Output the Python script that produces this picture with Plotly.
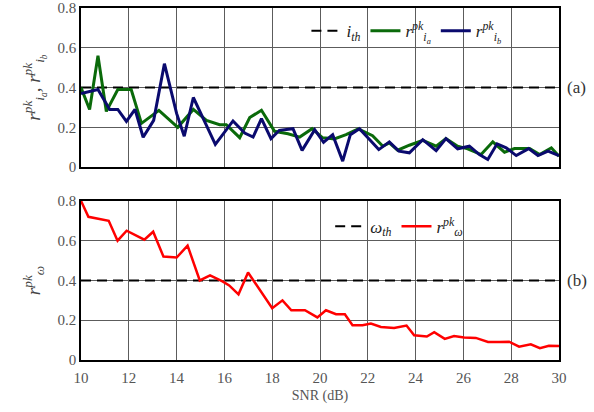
import plotly.graph_objects as go

# ---- data ----
snr_ia = [10.0, 10.36, 10.71, 11.06, 11.54, 12.1, 12.53, 13.26, 14.05, 14.7, 15.25, 15.8, 16.08,
          16.64, 17.06, 17.55, 18.1, 18.66, 19.15, 19.67, 20.1, 20.6, 21.09, 21.6, 22.2, 22.63,
          22.9, 23.25, 23.74, 24.3, 24.86, 25.27, 25.76, 26.18, 26.74, 27.23, 27.72, 28.14,
          28.77, 29.19, 29.68, 30.0]
r_ia = [0.40, 0.29, 0.56, 0.28, 0.39, 0.39, 0.22, 0.285, 0.20, 0.29, 0.235, 0.213, 0.213,
        0.148, 0.249, 0.286, 0.18, 0.168, 0.151, 0.193, 0.148, 0.142, 0.163, 0.192, 0.158, 0.105,
        0.122, 0.085, 0.11, 0.135, 0.105, 0.143, 0.105, 0.092, 0.063, 0.127, 0.075, 0.093,
        0.093, 0.063, 0.097, 0.055]

snr_ib = [10.0, 10.71, 11.2, 11.54, 11.9, 12.26, 12.6, 13.04, 13.49, 14.0, 14.32, 14.7, 15.17,
          15.62, 16.36, 16.85, 17.2, 17.55, 17.95, 18.3, 18.87, 19.25, 19.78, 20.15, 20.53,
          20.95, 21.27, 21.65, 22.14, 22.46, 22.9, 23.3, 23.74, 24.3, 24.86, 25.27, 25.76,
          26.25, 26.67, 27.02, 27.41, 27.79, 28.21, 28.73, 29.12, 29.54, 30.0]
r_ib = [0.37, 0.39, 0.29, 0.29, 0.23, 0.29, 0.15, 0.235, 0.52, 0.27, 0.155, 0.35, 0.23,
        0.114, 0.232, 0.171, 0.151, 0.244, 0.143, 0.185, 0.193, 0.084, 0.188, 0.125, 0.163,
        0.03, 0.163, 0.193, 0.13, 0.088, 0.127, 0.08, 0.072, 0.138, 0.083, 0.143, 0.092,
        0.105, 0.063, 0.038, 0.117, 0.097, 0.058, 0.093, 0.058, 0.08, 0.058]

snr_w = [10.0, 10.31, 11.16, 11.53, 11.91, 12.65, 13.02, 13.45, 14.0, 14.46, 14.97, 15.4,
         15.92, 16.2, 16.59, 16.99, 18.0, 18.43, 18.8, 19.37, 19.89, 20.25, 20.67, 21.04,
         21.36, 21.78, 22.13, 22.55, 23.1, 23.62, 23.94, 24.47, 24.78, 25.22, 25.61, 26.03,
         26.52, 27.03, 27.5, 27.91, 28.33, 28.82, 29.2, 29.58, 30.0]
r_w = [0.80, 0.72, 0.70, 0.60, 0.65, 0.605, 0.645, 0.52, 0.515, 0.575, 0.40, 0.425,
       0.395, 0.375, 0.33, 0.44, 0.26, 0.30, 0.25, 0.25, 0.214, 0.25, 0.23, 0.23,
       0.175, 0.175, 0.183, 0.166, 0.161, 0.173, 0.124, 0.118, 0.14, 0.106, 0.121, 0.113,
       0.111, 0.091, 0.091, 0.092, 0.067, 0.079, 0.059, 0.072, 0.071]

i_th = 0.4
w_th = 0.4
snr_span = [10, 30]
x_ticks = [10, 12, 14, 16, 18, 20, 22, 24, 26, 28, 30]
y_ticks = [0, 0.2, 0.4, 0.6, 0.8]
y_tick_text = ["0", "0.2", "0.4", "0.6", "0.8"]

SERIF = "Liberation Serif"
GREEN = "#0a6a0a"
NAVY = "#0a0a6e"
RED = "#ff0000"

fig = go.Figure()

fig.add_trace(go.Scatter(x=snr_span, y=[i_th, i_th], mode="lines",
                         line=dict(color="black", width=2, dash="10px,6px"),
                         name="<i>i<sub>th</sub></i>", legend="legend",
                         xaxis="x", yaxis="y"))
fig.add_trace(go.Scatter(x=snr_ia, y=r_ia, mode="lines",
                         line=dict(color=GREEN, width=3),
                         name="<i>r<sup>pk</sup><sub>i<sub>a</sub></sub></i>", legend="legend",
                         xaxis="x", yaxis="y"))
fig.add_trace(go.Scatter(x=snr_ib, y=r_ib, mode="lines",
                         line=dict(color=NAVY, width=3),
                         name="<i>r<sup>pk</sup><sub>i<sub>b</sub></sub></i>", legend="legend",
                         xaxis="x", yaxis="y"))

fig.add_trace(go.Scatter(x=snr_span, y=[w_th, w_th], mode="lines",
                         line=dict(color="black", width=2, dash="10px,6px"),
                         name="<i>ω<sub>th</sub></i>", legend="legend2",
                         xaxis="x2", yaxis="y2"))
fig.add_trace(go.Scatter(x=snr_w, y=r_w, mode="lines",
                         line=dict(color=RED, width=2.5),
                         name="<i>r<sup>pk</sup><sub>ω</sub></i>", legend="legend2",
                         xaxis="x2", yaxis="y2"))

tick_font = dict(family=SERIF, size=15, color="#555555")
axis_common = dict(range=snr_span, tickvals=x_ticks, showgrid=True, gridcolor="#5c5c5c",
                   gridwidth=1, showline=True, linecolor="black", linewidth=1.5, mirror=True,
                   ticks="", zeroline=False, automargin=False, tickfont=tick_font)
yaxis_common = dict(range=[0, 0.8], tickvals=y_ticks, ticktext=y_tick_text,
                    showgrid=True, gridcolor="#5c5c5c", gridwidth=1, showline=True,
                    linecolor="black", linewidth=1.5, mirror=True, ticks="", zeroline=False,
                    automargin=False, tickfont=tick_font)
title_font = dict(family=SERIF, size=19, color="#444444")
legend_font = dict(family=SERIF, size=17, color="#222222")

fig.update_layout(
    width=594, height=412,
    margin=dict(l=81, r=35, t=8, b=52),
    paper_bgcolor="white", plot_bgcolor="white",
    xaxis=dict(**axis_common, anchor="y", showticklabels=False),
    yaxis=dict(**yaxis_common, domain=[0.548, 1], anchor="x",
               title=dict(text="<i>r<sup>pk</sup><sub>i<sub>a</sub></sub>, r<sup>pk</sup><sub>i<sub>b</sub></sub></i>",
                          font=title_font, standoff=12)),
    xaxis2=dict(**axis_common, anchor="y2", ticklabelstandoff=3,
                title=dict(text="SNR (dB)", font=dict(family=SERIF, size=14, color="#555555"),
                           standoff=5)),
    yaxis2=dict(**yaxis_common, domain=[0, 0.452], anchor="x2",
                title=dict(text="<i>r<sup>pk</sup><sub>ω</sub></i>",
                           font=title_font, standoff=12)),
    legend=dict(orientation="h", x=0.89, xanchor="right", y=0.985, yanchor="top",
                bgcolor="rgba(0,0,0,0)", font=legend_font,
                itemwidth=30, tracegroupgap=0),
    legend2=dict(orientation="h", x=0.81, xanchor="right", y=0.43, yanchor="top",
                 bgcolor="rgba(0,0,0,0)", font=legend_font,
                 itemwidth=30, tracegroupgap=0),
    annotations=[
        dict(text="(a)", xref="paper", yref="y", x=1.012, y=0.4, xanchor="left",
             yanchor="middle", showarrow=False, font=dict(family=SERIF, size=17, color="#333333")),
        dict(text="(b)", xref="paper", yref="y2", x=1.012, y=0.4, xanchor="left",
             yanchor="middle", showarrow=False, font=dict(family=SERIF, size=17, color="#333333")),
    ],
)

fig.write_html("out.html", config={"displayModeBar": False},
               post_script="document.body.style.margin='0';")
